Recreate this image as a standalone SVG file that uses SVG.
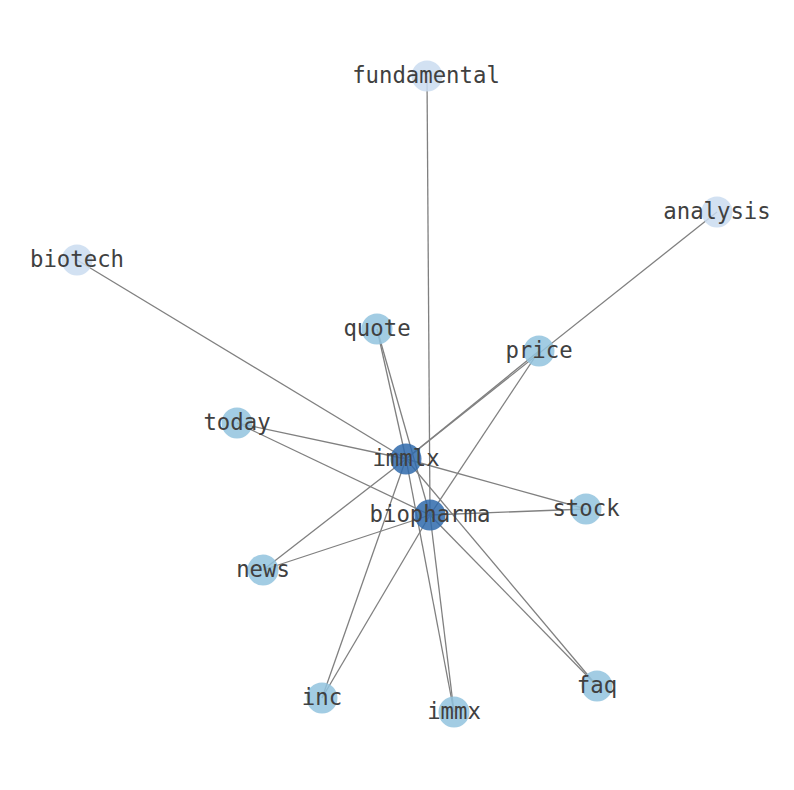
<svg xmlns="http://www.w3.org/2000/svg" width="794" height="790" viewBox="0 0 794 790">
<style>
.e{stroke:#808080;stroke-width:1.3;fill:none}
.n{stroke:none;opacity:0.85}
.d{fill:#2f6aab}
.m{fill:#92c3de}
.l{fill:#cadcf0}
text{font-family:"DejaVu Sans Mono","Liberation Mono",monospace;font-size:22.3px;fill:#404040;text-anchor:middle;dominant-baseline:central}
</style>
<rect width="794" height="790" fill="#ffffff"/>
<g id="edges">
<line class="e" x1="77" y1="260" x2="406" y2="459"/>
<line class="e" x1="427" y1="76" x2="430" y2="515"/>
<line class="e" x1="717" y1="212" x2="406" y2="459"/>
<line class="e" x1="539" y1="351" x2="406" y2="459"/>
<line class="e" x1="539" y1="351" x2="430" y2="515"/>
<line class="e" x1="377" y1="329" x2="406" y2="459"/>
<line class="e" x1="377" y1="329" x2="430" y2="515"/>
<line class="e" x1="237" y1="423" x2="406" y2="459"/>
<line class="e" x1="237" y1="423" x2="430" y2="515"/>
<line class="e" x1="586" y1="509" x2="406" y2="459"/>
<line class="e" x1="586" y1="509" x2="430" y2="515"/>
<line class="e" x1="263" y1="570" x2="406" y2="459"/>
<line class="e" x1="263" y1="570" x2="430" y2="515"/>
<line class="e" x1="322" y1="698" x2="406" y2="459"/>
<line class="e" x1="322" y1="698" x2="430" y2="515"/>
<line class="e" x1="454" y1="712" x2="406" y2="459"/>
<line class="e" x1="454" y1="712" x2="430" y2="515"/>
<line class="e" x1="597" y1="686" x2="406" y2="459"/>
<line class="e" x1="597" y1="686" x2="430" y2="515"/>
</g>
<g id="node-fundamental"><circle class="n l" cx="427" cy="76" r="15.5"/><text x="426" y="75">fundamental</text></g>
<g id="node-analysis"><circle class="n l" cx="717" cy="212" r="15.5"/><text x="717" y="211">analysis</text></g>
<g id="node-biotech"><circle class="n l" cx="77" cy="260" r="15.5"/><text x="77" y="259">biotech</text></g>
<g id="node-quote"><circle class="n m" cx="377" cy="329" r="15.5"/><text x="377" y="328">quote</text></g>
<g id="node-price"><circle class="n m" cx="539" cy="351" r="15.5"/><text x="539" y="350">price</text></g>
<g id="node-today"><circle class="n m" cx="237" cy="423" r="15.5"/><text x="237" y="422">today</text></g>
<g id="node-stock"><circle class="n m" cx="586" cy="509" r="15.5"/><text x="586" y="508">stock</text></g>
<g id="node-news"><circle class="n m" cx="263" cy="570" r="15.5"/><text x="263" y="569">news</text></g>
<g id="node-inc"><circle class="n m" cx="322" cy="698" r="15.5"/><text x="322" y="697">inc</text></g>
<g id="node-immx"><circle class="n m" cx="454" cy="712" r="15.5"/><text x="454" y="711">immx</text></g>
<g id="node-faq"><circle class="n m" cx="597" cy="686" r="15.5"/><text x="597" y="685">faq</text></g>
<g id="node-immlx"><circle class="n d" cx="406" cy="459" r="15.5"/><text x="406" y="458">immlx</text></g>
<g id="node-biopharma"><circle class="n d" cx="430" cy="515" r="15.5"/><text x="430" y="514">biopharma</text></g>
</svg>
